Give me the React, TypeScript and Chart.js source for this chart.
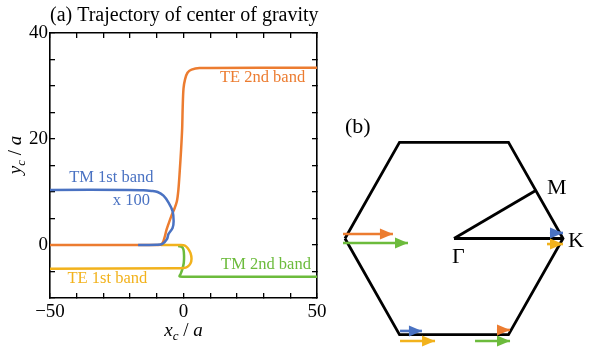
import React, { useEffect, useRef } from "react";
import { Chart, registerables } from "chart.js";
Chart.register(...registerables);

const SERIF = '"Liberation Serif", "Times New Roman", serif';

// ---------- Panel (a): trajectory of center of gravity ----------
const X_MIN = -50;
const X_MAX = 50;
const Y_MIN = -10;
const Y_MAX = 40;
const X_TICK_STEP = 10;
const Y_TICK_STEP = 5;
const X_LABELED = [-50, 0, 50];
const Y_LABELED = [0, 20, 40];

// TM 1st band (x100)
const TM1_X = [-50, -20, -15, -12, -9.7, -7.5, -5.6, -4.1, -3.7, -4.1, -5.6, -6.2, -7.9, -10, -17];
const TM1_Y = [10.4, 10.4, 10.35, 10.2, 10.0, 9.3, 8.0, 6.4, 4.5, 3.2, 2.1, 1.1, 0.2, 0.03, 0];

// TE 2nd band
const TE2_X = [-50, -9.5, -8.3, -7.6, -7.0, -6.4, -5.6, -4.6, -3.6, -2.5, -1.9, -1.4, -0.9, -0.5, -0.3, 0, 0.6, 1.5, 3, 6, 50];
const TE2_Y = [0, 0, 0.1, 0.6, 1.6, 2.8, 4.0, 5.4, 6.6, 8.2, 10.5, 14, 18, 22, 26, 29.5, 31.3, 32.5, 33.1, 33.4, 33.45];

// TE 1st band
const TE1_X = [-8.5, -1, 0.5, 1.6, 2.6, 3.0, 2.6, 1.5, 0, -3, -50];
const TE1_Y = [0, 0, -0.1, -0.6, -1.5, -2.6, -3.5, -4.1, -4.35, -4.4, -4.5];

// TM 2nd band
const TM2_X = [-2, -0.6, 0, 0.2, 0.1, -0.4, -1.1, -1.5, -0.5, 50];
const TM2_Y = [-0.2, -0.35, -0.9, -2, -3.4, -4.5, -5.5, -5.9, -6.0, -6.0];

const BAND_NAMES = ["TM 1st band", "TE 2nd band", "TE 1st band", "TM 2nd band"];
const BAND_COLORS = ["#4A72C2", "#EC7C30", "#F2B21C", "#6CBB3C"];

// label anchors (data coordinates)
const LABEL_X = [-27, 29.6, -28.5, 30.9];
const LABEL_Y = [12.7, 31.6, -6.4, -3.8];
const SCALE_NOTE = "x 100";
const SCALE_NOTE_X = -19.5;
const SCALE_NOTE_Y = 8.3;

const TITLE_A = "(a) Trajectory of center of gravity";

// ---------- Panel (b): Brillouin zone ----------
const HEX_X = [-1, -0.5, 0.5, 1, 0.5, -0.5, -1];
const HEX_Y = [0, 0.866, 0.866, 0, -0.866, -0.866, 0];
const GM_X = [0, 0.75];
const GM_Y = [0, 0.433];
const GK_X = [0, 1];
const GK_Y = [0, 0];

// arrows: start x, tip x, y, band index (color)
const ARROW_START_X = [-1.018, -1.018, 0.88, 0.853, -0.495, -0.495, 0.193, 0.394];
const ARROW_TIP_X = [-0.56, -0.422, 1.0, 1.0, -0.294, -0.174, 0.514, 0.514];
const ARROW_Y = [0.04, -0.04, 0.05, -0.05, -0.833, -0.923, -0.923, -0.824];
const ARROW_BAND = [1, 3, 0, 2, 0, 2, 3, 1];

const BZ_LABELS = ["(b)", "M", "K", "Γ"];
const BZ_LABEL_X = [-1.0, 0.853, 1.046, -0.018];
const BZ_LABEL_Y = [0.95, 0.4, -0.077, -0.22];

const zip = (xs: number[], ys: number[]) => xs.map((x, i) => ({ x, y: ys[i] }));

function mathParts(v: string, size: number) {
  return [
    { t: v, italic: true, size, dy: 0 },
    { t: "c", italic: true, size: Math.round(size * 0.68), dy: size * 0.22 },
    { t: " / ", italic: false, size, dy: 0 },
    { t: "a", italic: true, size, dy: 0 },
  ];
}

function drawParts(ctx: CanvasRenderingContext2D, parts: any[], cx: number, baseY: number) {
  let total = 0;
  const widths = parts.map((p) => {
    ctx.font = `${p.italic ? "italic " : ""}${p.size}px ${SERIF}`;
    const w = ctx.measureText(p.t).width;
    total += w;
    return w;
  });
  let x = cx - total / 2;
  ctx.textAlign = "left";
  ctx.textBaseline = "alphabetic";
  parts.forEach((p, i) => {
    ctx.font = `${p.italic ? "italic " : ""}${p.size}px ${SERIF}`;
    ctx.fillText(p.t, x, baseY + p.dy);
    x += widths[i];
  });
}

const leftDecor = {
  id: "leftDecor",
  afterDraw(chart: any) {
    const ctx: CanvasRenderingContext2D = chart.ctx;
    const { chartArea, scales } = chart;
    const sx = scales.x;
    const sy = scales.y;
    ctx.save();
    ctx.fillStyle = "#000";
    ctx.font = `20px ${SERIF}`;
    ctx.textAlign = "left";
    ctx.textBaseline = "alphabetic";
    ctx.fillText(TITLE_A, chartArea.left, 21);

    // band labels
    ctx.font = `16.5px ${SERIF}`;
    ctx.textAlign = "center";
    ctx.textBaseline = "middle";
    BAND_NAMES.forEach((n, i) => {
      ctx.fillStyle = BAND_COLORS[i];
      ctx.fillText(n, sx.getPixelForValue(LABEL_X[i]), sy.getPixelForValue(LABEL_Y[i]));
    });
    ctx.fillStyle = BAND_COLORS[0];
    ctx.fillText(SCALE_NOTE, sx.getPixelForValue(SCALE_NOTE_X), sy.getPixelForValue(SCALE_NOTE_Y));

    // axis titles
    ctx.fillStyle = "#000";
    drawParts(ctx, mathParts("x", 19), (chartArea.left + chartArea.right) / 2, 336);
    ctx.translate(21, 155);
    ctx.rotate(-Math.PI / 2);
    drawParts(ctx, mathParts("y", 19), 0, 0);
    ctx.restore();
  },
};

const rightDecor = {
  id: "rightDecor",
  afterDatasetsDraw(chart: any) {
    const ctx: CanvasRenderingContext2D = chart.ctx;
    chart.data.datasets.forEach((ds: any, i: number) => {
      if (!ds.arrow) return;
      const meta = chart.getDatasetMeta(i);
      const a = meta.data[0];
      const b = meta.data[meta.data.length - 1];
      const ang = Math.atan2(b.y - a.y, b.x - a.x);
      const L = 13;
      const W = 5.5;
      ctx.save();
      ctx.translate(b.x, b.y);
      ctx.rotate(ang);
      ctx.beginPath();
      ctx.moveTo(0, 0);
      ctx.lineTo(-L, -W);
      ctx.lineTo(-L, W);
      ctx.closePath();
      ctx.fillStyle = ds.borderColor;
      ctx.fill();
      ctx.restore();
    });
  },
  afterDraw(chart: any) {
    const ctx: CanvasRenderingContext2D = chart.ctx;
    const sx = chart.scales.x;
    const sy = chart.scales.y;
    ctx.save();
    ctx.fillStyle = "#000";
    ctx.font = `22px ${SERIF}`;
    ctx.textAlign = "left";
    ctx.textBaseline = "alphabetic";
    BZ_LABELS.forEach((t, i) => {
      ctx.fillText(t, sx.getPixelForValue(BZ_LABEL_X[i]), sy.getPixelForValue(BZ_LABEL_Y[i]));
    });
    ctx.restore();
  },
};

const xLabel = (v: number) => (X_LABELED.includes(v) ? (v < 0 ? "\u2212" + Math.abs(v) : String(v)) : "");
const yLabel = (v: number) => (Y_LABELED.includes(v) ? String(v) : "");

export default function App() {
  const leftRef = useRef<HTMLCanvasElement>(null);
  const rightRef = useRef<HTMLCanvasElement>(null);

  useEffect(() => {
    const grid = () => ({ drawOnChartArea: false, drawTicks: true, tickLength: -5, color: "#000", lineWidth: 1.3 });
    const border = { display: true, color: "#000", width: 1.6 };
    const tickFont = { family: SERIF, size: 19 };
    const series = [zip(TM1_X, TM1_Y), zip(TE2_X, TE2_Y), zip(TE1_X, TE1_Y), zip(TM2_X, TM2_Y)];

    const left = new Chart(leftRef.current!, {
      type: "scatter",
      data: {
        datasets: series.map((d, i) => ({
          label: BAND_NAMES[i],
          data: d,
          showLine: true,
          borderColor: BAND_COLORS[i],
          backgroundColor: BAND_COLORS[i],
          borderWidth: 2.5,
          pointRadius: 0,
          tension: 0.3,
        })),
      },
      options: {
        responsive: false,
        animation: false,
        devicePixelRatio: 1,
        layout: { padding: 0, autoPadding: false },
        plugins: { legend: { display: false }, tooltip: { enabled: false }, title: { display: false } },
        scales: {
          x: {
            type: "linear", position: "bottom", min: X_MIN, max: X_MAX,
            ticks: { stepSize: X_TICK_STEP, autoSkip: false, maxRotation: 0, padding: 8, color: "#000", font: tickFont, callback: (v: any) => xLabel(v) },
            grid: grid(), border,
            afterFit: (s: any) => { s.height = 50; },
          },
          xTop: {
            type: "linear", axis: "x", position: "top", min: X_MIN, max: X_MAX,
            ticks: { stepSize: X_TICK_STEP, display: false },
            grid: grid(), border,
            afterFit: (s: any) => { s.height = 33; },
          },
          y: {
            type: "linear", position: "left", min: Y_MIN, max: Y_MAX,
            ticks: { stepSize: Y_TICK_STEP, autoSkip: false, padding: 7, color: "#000", font: tickFont, callback: (v: any) => yLabel(v) },
            grid: grid(), border,
            afterFit: (s: any) => { s.width = 50; },
          },
          yRight: {
            type: "linear", axis: "y", position: "right", min: Y_MIN, max: Y_MAX,
            ticks: { stepSize: Y_TICK_STEP, display: false },
            grid: grid(), border,
            afterFit: (s: any) => { s.width = 18; },
          },
        } as any,
      },
      plugins: [leftDecor],
    } as any);

    const arrowSets = ARROW_Y.map((y, i) => ({
      data: [{ x: ARROW_START_X[i], y }, { x: ARROW_TIP_X[i], y }],
      showLine: true,
      arrow: true,
      borderColor: BAND_COLORS[ARROW_BAND[i]],
      borderWidth: 2.6,
      pointRadius: 0,
    }));
    const blackLine = (d: any[]) => ({
      data: d,
      showLine: true,
      borderColor: "#000",
      borderWidth: 2.8,
      pointRadius: 0,
      borderJoinStyle: "miter",
    });

    const right = new Chart(rightRef.current!, {
      type: "scatter",
      data: {
        datasets: [...arrowSets, blackLine(zip(HEX_X, HEX_Y)), blackLine(zip(GM_X, GM_Y)), blackLine(zip(GK_X, GK_Y))],
      },
      options: {
        responsive: false,
        animation: false,
        devicePixelRatio: 1,
        layout: { padding: 0, autoPadding: false },
        plugins: { legend: { display: false }, tooltip: { enabled: false } },
        scales: {
          x: { type: "linear", display: false, min: -1.0917, max: 1.2385 },
          y: { type: "linear", display: false, min: -0.9865, max: 2.1486 },
        },
      },
      plugins: [rightDecor],
    } as any);

    return () => {
      left.destroy();
      right.destroy();
    };
  }, []);

  return (
    <div style={{ position: "absolute", left: 0, top: 0, width: 589, height: 348, background: "#fff" }}>
      <canvas ref={leftRef} width={335} height={348} style={{ position: "absolute", left: 0, top: 0, width: 335, height: 348 }} />
      <canvas ref={rightRef} width={254} height={348} style={{ position: "absolute", left: 335, top: 0, width: 254, height: 348 }} />
    </div>
  );
}
